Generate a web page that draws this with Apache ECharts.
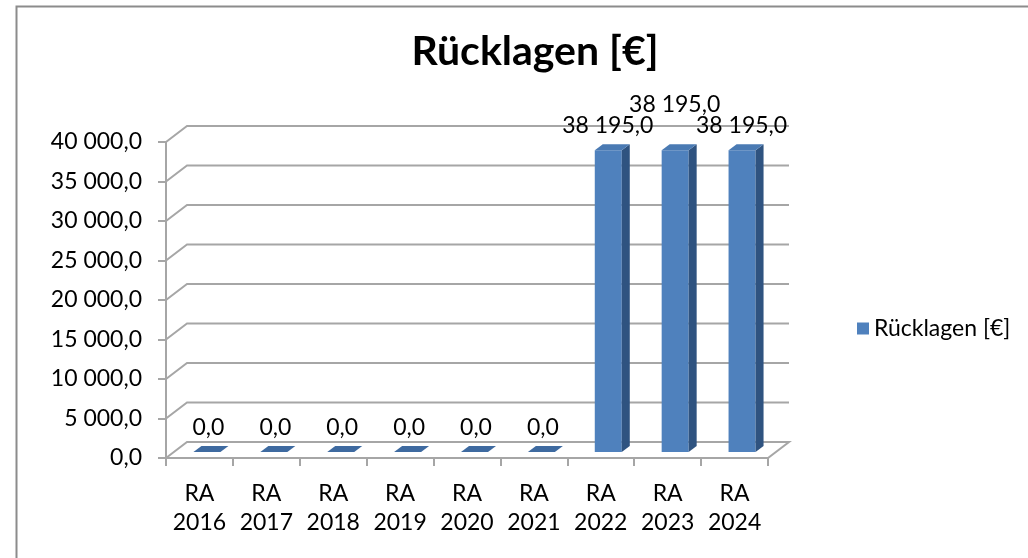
<!DOCTYPE html>
<html>
<head>
<meta charset="utf-8">
<script src="https://cdn.jsdelivr.net/npm/echarts@6/dist/echarts.min.js"></script>
<style>
html,body{margin:0;padding:0;background:#fff;}
#chart{width:1028px;height:558px;}
</style>
</head>
<body>
<div id="chart"></div>
<script>
// ---- data ----
var categories = ['RA\n2016','RA\n2017','RA\n2018','RA\n2019','RA\n2020','RA\n2021','RA\n2022','RA\n2023','RA\n2024'];
var values = [0, 0, 0, 0, 0, 0, 38195, 38195, 38195];
var yTicks = [0, 5000, 10000, 15000, 20000, 25000, 30000, 35000, 40000];
var seriesName = 'Rücklagen [€]';
var titleText = 'Rücklagen [€]';

function fmt(v){
  var s = v.toFixed(1).split('.');
  var int = s[0].replace(/\B(?=(\d{3})+(?!\d))/g, '\u00a0');
  return int + ',' + s[1];
}

// label raise for overlap avoidance (alternate for adjacent non-zero values)
var raised = [];
for (var i = 0; i < values.length; i++) {
  raised[i] = (i > 0 && values[i] > 0 && values[i-1] > 0 && !raised[i-1]);
}

var FONT = 'Lato, "Open Sans", sans-serif';
var FS = 23;
var DX = 21, DY = -16; // depth of the 3D floor
var BDX = 8, BDY = -6; // bar depth
var BOFF_X = 7.5, BOFF_Y = -6; // bar position in depth
var BW = 27;

var chart = echarts.init(document.getElementById('chart'));

var wallData = yTicks.map(function(v){ return [0, v]; });

var option = {
  animation: false,
  title: {
    text: titleText,
    left: 530,
    textAlign: 'center',
    top: 26,
    textStyle: {fontFamily: FONT, fontSize: 41, fontWeight: 'bold', color: '#000'}
  },
  legend: {
    left: 852, top: 312,
    icon: 'rect', itemWidth: 12, itemHeight: 12, itemGap: 6,
    textStyle: {fontFamily: FONT, fontSize: FS, color: '#000'},
    data: [seriesName]
  },
  grid: {left: 166, top: 142, width: 602, height: 316, containLabel: false},
  xAxis: {
    type: 'category',
    data: categories,
    boundaryGap: true,
    axisLine: {show: true, lineStyle: {color: '#a6a6a6', width: 2}},
    axisTick: {show: true, length: 8, interval: 0, alignWithLabel: false, lineStyle: {color: '#a6a6a6', width: 2}},
    axisLabel: {interval: 0, fontFamily: FONT, fontSize: FS, color: '#000', lineHeight: 29, margin: 21}
  },
  yAxis: {
    type: 'value',
    min: 0, max: 40000, interval: 5000,
    axisLine: {show: true, lineStyle: {color: '#a6a6a6', width: 2}},
    axisTick: {show: true, length: 8, lineStyle: {color: '#a6a6a6', width: 2}},
    axisLabel: {fontFamily: FONT, fontSize: FS, color: '#000', margin: 24, formatter: function(v){ return fmt(v); }},
    splitLine: {show: false}
  },
  series: [
    {
      type: 'custom',
      name: 'walls',
      silent: true,
      z: 1,
      data: wallData,
      renderItem: function(params, api){
        var cs = params.coordSys;
        var p = api.coord([0, api.value(1)]);
        var x0 = cs.x, x1 = cs.x + cs.width;
        var y = p[1];
        var children = [];
        if (api.value(1) === 0) {
          children.push({type: 'polygon', shape: {points: [[x0, y], [x0+DX, y+DY], [x1+DX, y+DY], [x1, y]]},
            style: {fill: '#ffffff', stroke: '#a6a6a6', lineWidth: 2}});
        } else {
          children.push({type: 'polyline', shape: {points: [[x0, y], [x0+DX, y+DY], [x1+DX, y+DY]]},
            style: {fill: null, stroke: '#a6a6a6', lineWidth: 2}});
        }
        return {type: 'group', children: children};
      }
    },
    {
      type: 'custom',
      name: seriesName,
      z: 3,
      itemStyle: {color: '#4f81bd'},
      data: values.map(function(v, i){ return [i, v]; }),
      renderItem: function(params, api){
        var i = api.value(0), v = api.value(1);
        var top = api.coord([i, v]);
        var base = api.coord([i, 0]);
        var cx = top[0] + BOFF_X;
        var xl = cx - BW/2, xr = cx + BW/2;
        var yb = base[1] + BOFF_Y, yt = top[1] + BOFF_Y;
        var children = [];
        if (v > 0) {
          children.push({type: 'polygon', shape: {points: [[xl, yb], [xl, yt], [xr, yt], [xr, yb]]}, style: {fill: '#4f81bd'}});
          children.push({type: 'polygon', shape: {points: [[xr, yb], [xr, yt], [xr+BDX, yt+BDY], [xr+BDX, yb+BDY]]}, style: {fill: '#2f5380'}});
        }
        children.push({type: 'polygon', shape: {points: [[xl, yt], [xl+BDX, yt+BDY], [xr+BDX, yt+BDY], [xr, yt]]}, style: {fill: v > 0 ? '#4a7ab3' : '#3e6aa0'}});
        var ly = yt - (v > 0 ? 25 : 24) - (raised[i] ? 21 : 0);
        children.push({type: 'text', style: {text: fmt(v), x: top[0] + (v > 0 ? 7 : 9), y: ly,
          align: 'center', verticalAlign: 'middle', fontFamily: FONT, fontSize: FS, fill: '#000'}});
        return {type: 'group', children: children};
      }
    }
  ],
  graphic: [
    {type: 'rect', left: 14, top: 4, shape: {width: 1100, height: 600}, silent: true, z: -10,
     style: {fill: null, stroke: '#8c8c8c', lineWidth: 2}}
  ]
};
chart.setOption(option);
</script>
</body>
</html>
